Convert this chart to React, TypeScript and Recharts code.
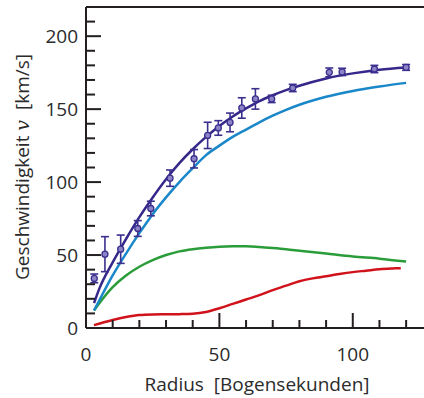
import React from "react";
import { ComposedChart, Line, Scatter, ErrorBar, XAxis, YAxis, ReferenceLine, Label } from "recharts";

// radius samples of the model curves (arcsec)
const curveRadius = [3, 5, 10, 15, 20, 25, 30, 35, 40, 45, 50, 55, 60, 65, 70, 75, 80, 90, 100, 110, 120];
const totalV = [17, 27, 45, 61, 76, 89.5, 102, 113, 122.5, 131, 138.5, 145, 150.5, 155.5, 159.5, 163, 166, 171, 174.5, 177, 178.5];
const haloV = [12, 19, 36, 51, 65, 78, 89.5, 100, 109.5, 118.5, 125, 131, 136, 141, 145.5, 149.5, 153, 158.5, 162.5, 165.5, 168];
const diskV = [12, 17, 28, 36, 42, 46.5, 50, 52.5, 54, 55, 55.7, 56, 56, 55.5, 54.8, 54, 53, 51, 49, 47.5, 45.5];

const gasRadius = [3, 10, 15, 20, 25, 30, 35, 40, 45, 50, 55, 60, 65, 70, 75, 80, 85, 90, 95, 100, 105, 110, 115, 118];
const gasV = [2, 5.5, 7.5, 8.9, 9.3, 9.4, 9.5, 9.8, 11, 13.5, 16.5, 19.5, 22.5, 26, 29, 32, 34, 35.5, 37, 38.3, 39.3, 40.3, 40.8, 41];

// measured points with errors
const pointRadius = [3.1, 7.1, 13, 19.4, 24.3, 31.5, 40.5, 45.6, 49.6, 54, 58.4, 63.5, 69.6, 77.5, 91.2, 96, 108.1, 120];
const pointV = [34, 50.6, 54, 68.2, 81.9, 102.7, 116, 132, 137.1, 140.9, 150.8, 157, 157, 164.5, 175.2, 175.5, 177.5, 178.6];
const pointErr = [3, 12, 9.7, 5.4, 5, 5.6, 6.3, 9, 5, 6.4, 7, 7, 2.5, 2.5, 3, 2.5, 2.5, 2];

const xTicks = [0, 10, 20, 30, 40, 50, 60, 70, 80, 90, 100, 110, 120];
const yTicks = [0, 10, 20, 30, 40, 50, 60, 70, 80, 90, 100, 110, 120, 130, 140, 150, 160, 170, 180, 190, 200, 210];

const toRows = (rs: number[], vs: number[]) => rs.map((r, i) => ({ r, v: vs[i] }));
const totalData = toRows(curveRadius, totalV);
const haloData = toRows(curveRadius, haloV);
const diskData = toRows(curveRadius, diskV);
const gasData = toRows(gasRadius, gasV);
const pointData = pointRadius.map((r, i) => ({ r, v: pointV[i], err: pointErr[i] }));

const INK = "#231f20";
const TEXT = "#2b2b2b";
const FONT = "'Open Sans', sans-serif";

const XTick = (props: any) => {
  const { x, y, payload } = props;
  const val = payload.value;
  const major = val % 50 === 0;
  return (
    <g>
      {val !== 0 && <line x1={x} x2={x} y1={y} y2={y - (major ? 15 : 8)} stroke={INK} strokeWidth={2} />}
      {major && (
        <text x={x} y={y + 33} textAnchor="middle" fontFamily={FONT} fontSize={19} fill={TEXT}>
          {val}
        </text>
      )}
    </g>
  );
};

const YTick = (props: any) => {
  const { x, y, payload } = props;
  const val = payload.value;
  const major = val % 50 === 0;
  return (
    <g>
      {val !== 0 && <line x1={x} x2={x + (major ? 15 : 9)} y1={y} y2={y} stroke={INK} strokeWidth={2} />}
      {major && (
        <text x={x - 8} y={y + 7} textAnchor="end" fontFamily={FONT} fontSize={19} fill={TEXT}>
          {val}
        </text>
      )}
    </g>
  );
};

const Dot = (props: any) => <circle cx={props.cx} cy={props.cy} r={3} fill="#8c84c6" stroke="#3b2f8e" strokeWidth={1.3} />;

export default function App() {
  return (
    <div style={{ position: "absolute", left: 0, top: 0, background: "#fff" }}>
      <ComposedChart width={424} height={398} margin={{ top: 7, right: 0, bottom: 0, left: 0 }}>
        <XAxis
          dataKey="r"
          type="number"
          domain={[0, 126.7]}
          ticks={xTicks}
          interval={0}
          allowDataOverflow
          height={70}
          tickSize={0}
          tickMargin={0}
          tickLine={false}
          tick={XTick}
          axisLine={{ stroke: INK, strokeWidth: 2 }}
        >
          <Label
            content={() => (
              <text x={257} y={391} textAnchor="middle" fontFamily={FONT} fontSize={19} fill={TEXT}>
                {"Radius\u00A0\u00A0[Bogensekunden]"}
              </text>
            )}
          />
        </XAxis>
        <YAxis
          dataKey="v"
          type="number"
          domain={[0, 220]}
          ticks={yTicks}
          interval={0}
          width={86}
          tickSize={0}
          tickMargin={0}
          tickLine={false}
          tick={YTick}
          axisLine={{ stroke: INK, strokeWidth: 2 }}
        >
          <Label
            content={() => (
              <text transform="rotate(-90)" x={-167} y={29} textAnchor="middle" fontFamily={FONT} fontSize={19} fill={TEXT}>
                {"Geschwindigkeit "}
                <tspan fontFamily="'DejaVu Serif', serif" fontStyle="italic">v</tspan>
                {"\u00A0\u00A0[km/s]"}
              </text>
            )}
          />
        </YAxis>
        <ReferenceLine y={220} stroke={INK} strokeWidth={2} />
        <Line data={gasData} dataKey="v" type="monotone" stroke="#d0121b" strokeWidth={2.5} dot={false} isAnimationActive={false} />
        <Line data={diskData} dataKey="v" type="monotone" stroke="#2a9d3a" strokeWidth={2.5} dot={false} isAnimationActive={false} />
        <Line data={haloData} dataKey="v" type="monotone" stroke="#1a87c9" strokeWidth={2.5} dot={false} isAnimationActive={false} />
        <Line data={totalData} dataKey="v" type="monotone" stroke="#35288a" strokeWidth={2.5} dot={false} isAnimationActive={false} />
        <Scatter data={pointData} dataKey="v" shape={Dot} isAnimationActive={false}>
          <ErrorBar dataKey="err" direction="y" width={4} stroke="#3b2f8e" strokeWidth={1.6} />
        </Scatter>
      </ComposedChart>
    </div>
  );
}
